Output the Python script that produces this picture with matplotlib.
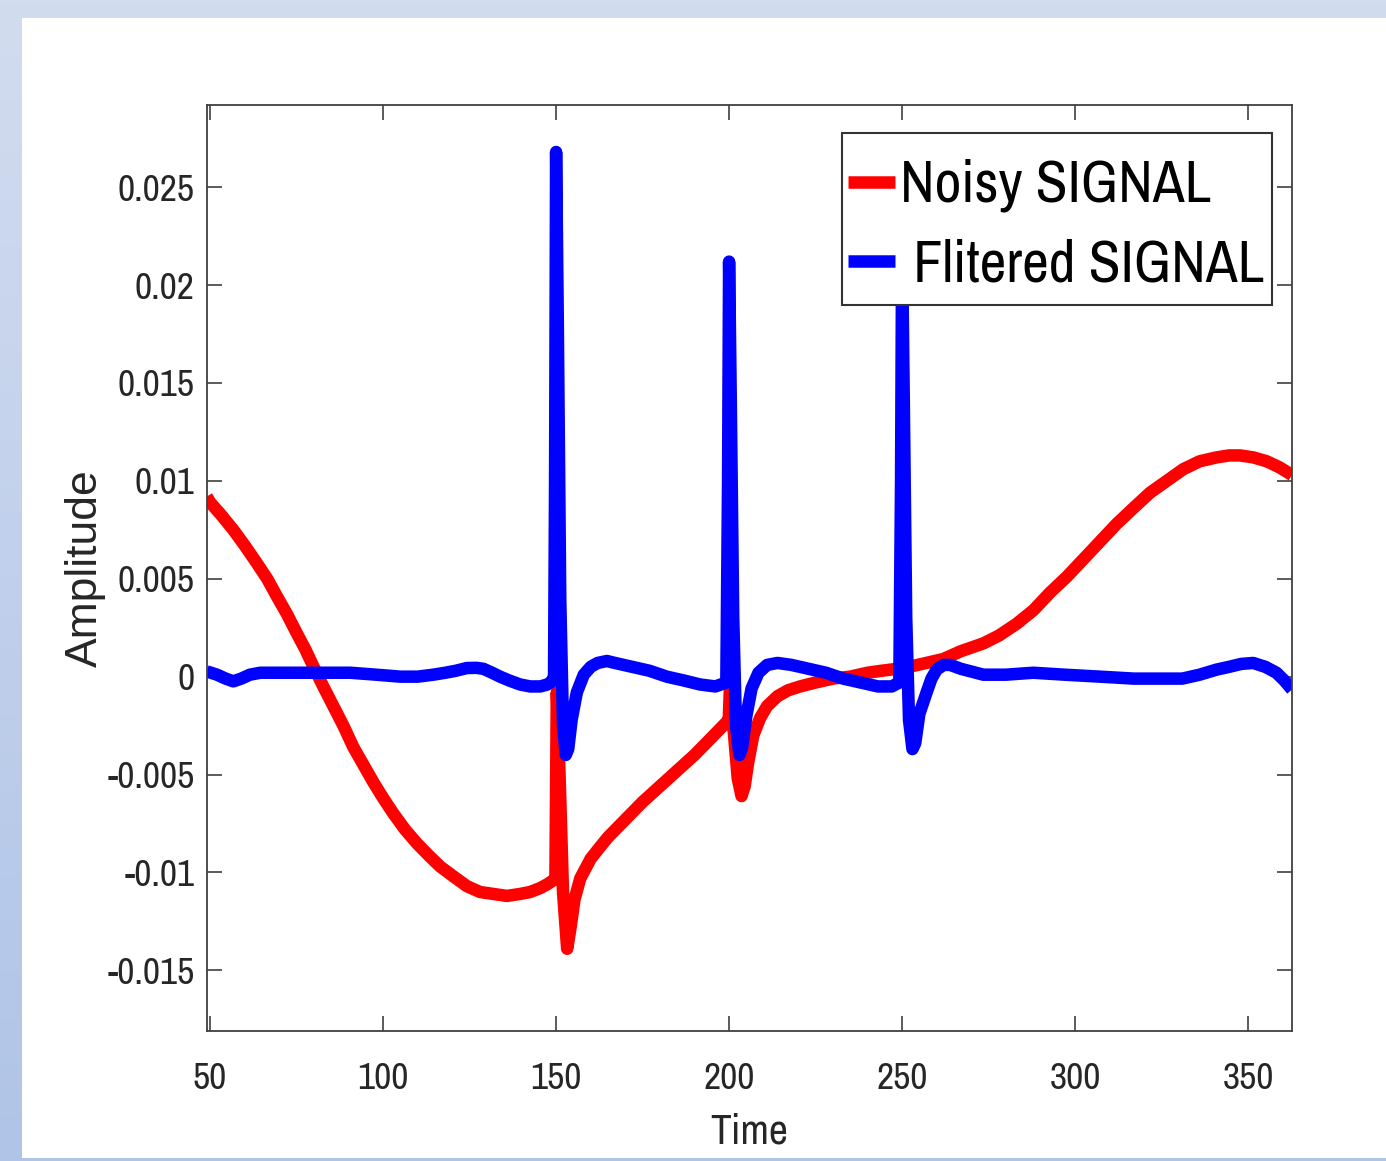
import matplotlib
matplotlib.use("Agg")
import matplotlib.pyplot as plt
import numpy as np
from matplotlib import font_manager
from matplotlib.patches import Rectangle

# ---------------- data ----------------
noisy_t = [49, 50, 53, 56.7, 60, 63.5, 66.5, 69.3, 72.2, 75.1, 77.5, 79.9, 82.7, 85.6,
           88.5, 91.4, 94.3, 97.2, 100, 103, 106.3, 109.7, 113, 116.5, 120.3, 124.2, 128,
           131.9, 135.8, 139.6, 142.5, 145.4, 147.5, 149.2, 149.8, 150.2, 151.0, 152.0,
           153.2, 154.2, 155.3, 157, 160, 162.7, 165, 170, 175, 180, 185, 190, 195, 199.4,
           199.9, 200.3, 201.2, 202.5, 203.6, 204.5, 205.5, 207, 209, 211, 214, 217, 220.5,
           225, 230, 235, 240, 244, 248.5, 252, 257, 261.9, 267, 273.5, 278, 283.1, 288,
           292.8, 297.6, 302.4, 307.2, 312, 316.8, 321.7, 326.5, 331.3, 336, 340.9, 344.5,
           347.7, 351.5, 355.4, 359, 362.7]
noisy_v = [0.0092, 0.0089, 0.0083, 0.0075, 0.0067, 0.0058, 0.0050, 0.0041, 0.0032, 0.0022,
           0.0014, 0.0005, -0.0005, -0.0015, -0.0025, -0.0036, -0.0045, -0.0054, -0.0062,
           -0.0070, -0.0078, -0.0085, -0.0091, -0.0097, -0.0102, -0.0107, -0.0110, -0.0111,
           -0.0112, -0.0111, -0.0110, -0.0108, -0.0106, -0.0104, -0.0103, -0.0008, -0.0050,
           -0.0110, -0.0139, -0.0128, -0.0114, -0.0103, -0.0093, -0.0087, -0.0082, -0.0073,
           -0.0064, -0.0056, -0.0048, -0.0040, -0.0031, -0.0023, -0.0022, -0.0003, -0.0025,
           -0.0052, -0.0061, -0.0056, -0.0044, -0.0030, -0.0021, -0.0015, -0.0010, -0.0007,
           -0.0005, -0.0003, -0.0001, 0.0000, 0.0002, 0.0003, 0.0004, 0.0005, 0.0007, 0.0009,
           0.0013, 0.0017, 0.0021, 0.0027, 0.0034, 0.0043, 0.0051, 0.0060, 0.0069, 0.0078,
           0.0086, 0.0094, 0.0100, 0.0106, 0.0110, 0.0112, 0.0113, 0.0113, 0.0112, 0.0110,
           0.0107, 0.0103]

filt_t = [49, 52, 54.5, 56.7, 59, 61.5, 64.5, 70, 76, 83, 90.5, 98, 105, 110, 114.5, 118,
          121, 124.2, 127, 129, 131.5, 133.8, 136.5, 139.6, 142.5, 145.4, 147.5, 148.8, 149.4,
          149.7, 150.0, 150.5, 151.2, 152.0, 152.8, 153.5, 154.5, 156, 158, 160, 162,
          164.7, 167, 172, 177, 182, 187, 191.6, 196, 199.2, 199.7, 200.0, 200.5, 201.2, 202,
          203, 203.8, 205, 206.5, 208.5, 211, 214, 218, 223, 228, 233, 238, 243, 247, 249.2,
          249.7, 250.0, 250.5, 251.2, 252, 253, 253.8, 255, 257.1, 258.5, 260, 262, 263.9,
          267, 273.5, 280, 287.9, 297, 307.2, 317, 326.5, 331, 336, 340.9, 344.5, 348,
          351.5, 355, 358.2, 360.5, 362.7]
filt_v = [0.00027, 0.0001, -0.0001, -0.00024, -0.0001, 0.0001, 0.0002, 0.0002, 0.0002,
          0.0002, 0.0002, 0.0001, 0.0000, 0.0000, 0.0001, 0.0002, 0.0003, 0.00044, 0.00045,
          0.0004, 0.0002, 0.0000, -0.0002, -0.0004, -0.0005, -0.0005, -0.0004, -0.00024,
          0.0000, 0.0100, 0.0268, 0.0180, 0.0040, -0.0025, -0.0040, -0.0037, -0.0022,
          -0.0008, 0.0001, 0.0005, 0.0007, 0.0008, 0.0007, 0.0005, 0.0003, 0.0000, -0.0002,
          -0.0004, -0.0005, -0.0003, 0.0100, 0.0212, 0.0140, 0.0030, -0.0025, -0.0040,
          -0.0036, -0.0020, -0.0006, 0.0002, 0.0006, 0.0007, 0.0006, 0.0004, 0.0002, -0.0001,
          -0.0003, -0.0005, -0.0005, -0.0003, 0.0100, 0.0215, 0.0140, 0.0030, -0.0022,
          -0.0037, -0.0034, -0.0019, -0.0008, -0.0001, 0.00036, 0.0006, 0.0006, 0.0004,
          0.0001, 0.0001, 0.0002, 0.0001, 0.0000, -0.0001, -0.0001, -0.0001, 0.0001,
          0.00036, 0.0005, 0.00065, 0.0007, 0.0005, 0.0002, -0.0002, -0.00066]

x_ticks = [50, 100, 150, 200, 250, 300, 350]
y_ticks = [-0.015, -0.01, -0.005, 0, 0.005, 0.01, 0.015, 0.02, 0.025]
y_tick_labels = ["-0.015", "-0.01", "-0.005", "0", "0.005", "0.01", "0.015", "0.02", "0.025"]
series_labels = ["Noisy SIGNAL", " Flitered SIGNAL"]

# ---------------- fonts ----------------
def pick(cands):
    for c in cands:
        try:
            font_manager.findfont(c, fallback_to_default=False)
            return c
        except Exception:
            pass
    return "DejaVu Sans"

narrow = pick(["Archivo Narrow", "Liberation Sans Narrow", "PT Sans Narrow",
               "Roboto Condensed", "Liberation Sans"])
regular = pick(["Liberation Sans", "Arimo", "DejaVu Sans"])

W, H = 1386, 1161
fig = plt.figure(figsize=(W / 100, H / 100), dpi=100)

# background: light blue frame with gradient on the left, white panel
bg = fig.add_axes([0, 0, 1, 1], zorder=-10)
grad = np.linspace(0, 1, 256).reshape(-1, 1)
top_c = np.array([0.824, 0.863, 0.937])
bot_c = np.array([0.690, 0.769, 0.906])
img = top_c[None, None, :] * (1 - grad[:, :, None]) + bot_c[None, None, :] * grad[:, :, None]
bg.imshow(img, aspect="auto", extent=[0, 1, 0, 1], origin="upper")
bg.add_patch(Rectangle((22 / W, 3 / H), 1 - 22 / W, 1 - 21 / H, facecolor="white",
                       edgecolor="none"))
bg.set_xlim(0, 1)
bg.set_ylim(0, 1)
bg.axis("off")

AX_L, AX_R, AX_T, AX_B = 207, 1292, 105, 1031
AW, AH = AX_R - AX_L, AX_B - AX_T
ax = fig.add_axes([AX_L / W, 1 - AX_B / H, AW / W, AH / H])
ax.plot(noisy_t, noisy_v, color="#ff0000", lw=9, label=series_labels[0],
        solid_joinstyle="round", solid_capstyle="butt")
ax.plot(filt_t, filt_v, color="#0000ff", lw=9, label=series_labels[1],
        solid_joinstyle="round", solid_capstyle="butt")

ax.set_xlim(49.1, 362.7)
ax.set_ylim(-0.0181, 0.0292)
ax.set_xticks(x_ticks)
ax.set_xticklabels([str(v) for v in x_ticks])
ax.set_yticks(y_ticks)
ax.set_yticklabels(y_tick_labels)

ax.tick_params(direction="in", length=11, width=1.2, color="#404040", top=True, right=True,
               labelcolor="#262626")
ax.tick_params(axis="x", pad=22)
ax.tick_params(axis="y", pad=9)
for lab in ax.get_xticklabels() + ax.get_yticklabels():
    lab.set_fontfamily(narrow)
    lab.set_fontsize(27)
for s in ax.spines.values():
    s.set_color("#404040")
    s.set_linewidth(1.3)

ax.set_xlabel("Time", fontfamily=narrow, fontsize=30, color="#262626", va="center")
ax.xaxis.set_label_coords(0.5, (AX_B - 1131) / AH)
ax.set_ylabel("Amplitude", fontfamily=regular, fontsize=32, color="#262626", va="center")
ax.yaxis.set_label_coords((85 - AX_L) / AW, 0.5)

# legend box (drawn as a frame rectangle) and entries
box = Rectangle(((842 - AX_L) / AW, (AX_B - 305) / AH), (1272 - 842) / AW, (305 - 133) / AH,
                transform=ax.transAxes, facecolor="white", edgecolor="#333333", lw=1.5,
                zorder=4.9, clip_on=False)
ax.add_patch(box)
leg = ax.legend(loc="upper left", bbox_to_anchor=((848 - AX_L) / AW, (AX_B - 159) / AH),
                frameon=False, handlelength=0.8, handletextpad=0.1, borderpad=0,
                labelspacing=0.45, borderaxespad=0, prop={"family": narrow, "size": 42})
leg.set_zorder(5)

fig.savefig("out.png", dpi=100)
